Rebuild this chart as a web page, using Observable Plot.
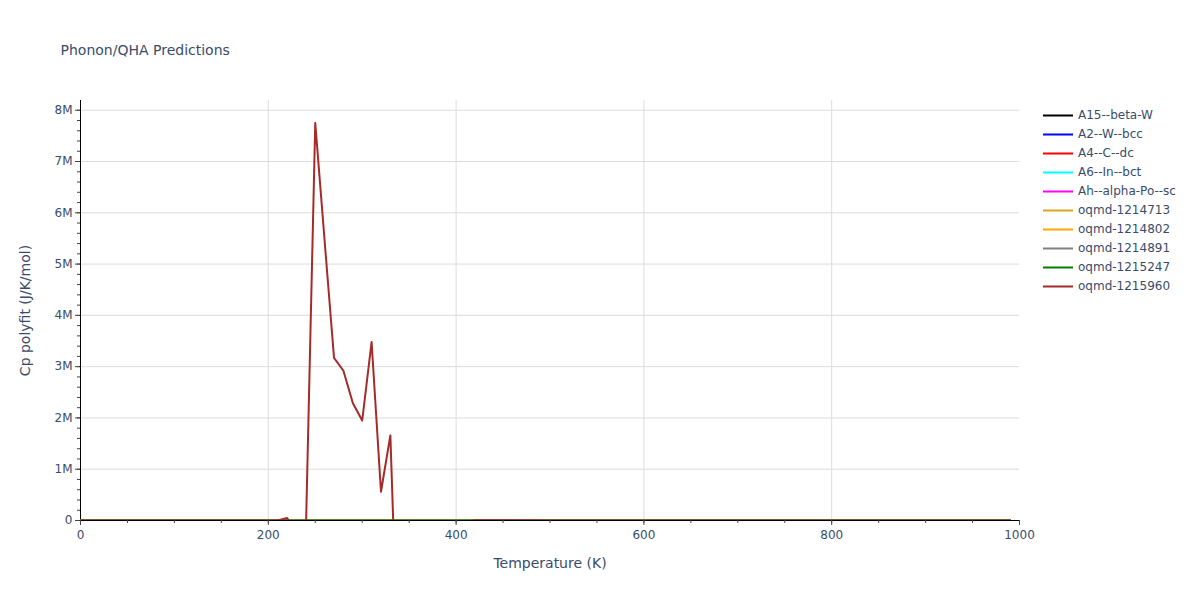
<!DOCTYPE html>
<html><head><meta charset="utf-8">
<script src="https://cdn.jsdelivr.net/npm/d3@7"></script>
<script src="https://cdn.jsdelivr.net/npm/@observablehq/plot@0.6"></script>
<style>
body{margin:0;background:#fff;font-family:"DejaVu Sans",sans-serif;}
#wrap{position:relative;width:1200px;height:600px;}
#legend{position:absolute;left:1040px;top:105.5px;font-size:12px;color:#3a4b69;font-family:"DejaVu Sans",sans-serif;}
.row{height:19px;display:flex;align-items:center;white-space:nowrap;}
.row svg{flex:none;}
</style></head><body>
<div id="wrap"><div id="chart"></div><div id="legend"></div></div>
<script>
// ---- data ----
const seriesNames = ["A15--beta-W","A2--W--bcc","A4--C--dc","A6--In--bct","Ah--alpha-Po--sc",
  "oqmd-1214713","oqmd-1214802","oqmd-1214891","oqmd-1215247","oqmd-1215960"];
const seriesColors = ["black","blue","red","cyan","magenta","goldenrod","orange","grey","green","brown"];

const otherT = [0,100,200,300,400,500,600,700,800,900,990];
const cpA15  = [0,14,20,22,23,24,24,24,25,25,25];
const cpA2   = [0,15,21,23,24,24,25,25,25,25,25];
const cpA4   = [0,10,18,21,23,24,24,24,25,25,25];
const cpA6   = [0,16,21,23,24,24,25,25,25,25,26];
const cpAh   = [0,15,20,22,23,24,24,25,25,25,25];
const cp713  = [0,13,19,22,23,24,24,24,25,25,25];
const cp802  = [0,14,20,22,23,24,24,25,25,25,25];
const cp891  = [0,15,21,23,24,24,25,25,25,25,25];
const cp247  = [0,14,20,22,23,24,24,25,25,25,25];

const brownT  = [0,50,100,150,200,210,220,230,240,250,260,270,280,290,300,310,320,330,340,350,360,370,380,390,400,410,420,500,600,700,800,900,990];
const cp960   = [0,20,25,27,28,30,50000,-230000,-240000,7750000,5450000,3170000,2920000,2290000,1950000,3480000,560000,1660000,-3870000,-4600000,-4200000,-3600000,-2900000,-2100000,-1200000,-45000,5000,30,28,27,27,26,26];

const xTicks = [0,200,400,600,800,1000];
const yTicks = [0,1e6,2e6,3e6,4e6,5e6,6e6,7e6,8e6];
const xMinor = d3.range(0, 1001, 50);
const yMinor = d3.range(0, 8.19e6, 2e5);

// ---- build table ----
const seriesValues = [cpA15,cpA2,cpA4,cpA6,cpAh,cp713,cp802,cp891,cp247];
const rows = [];
seriesValues.forEach((vals, i) => vals.forEach((v, j) => rows.push({series: seriesNames[i], T: otherT[j], Cp: v})));
cp960.forEach((v, j) => rows.push({series: seriesNames[9], T: brownT[j], Cp: v}));

const fmtY = d => d === 0 ? "0" : (d / 1e6) + "M";
const tc = "#3a4b69";

const chart = Plot.plot({
  width: 1200, height: 600,
  marginLeft: 80, marginRight: 181, marginTop: 100, marginBottom: 80,
  style: {fontFamily: "'DejaVu Sans', sans-serif", fontSize: "12px", color: tc, background: "white"},
  x: {domain: [0, 1000], label: null},
  y: {domain: [0, 8.19e6], label: null},
  color: {domain: seriesNames, range: seriesColors},
  marks: [
    Plot.gridX(xTicks.slice(1, -1), {stroke: "#dcdcdc", strokeOpacity: 1}),
    Plot.gridY(yTicks.slice(1), {stroke: "#dcdcdc", strokeOpacity: 1}),
    Plot.ruleY([0], {stroke: "black"}),
    Plot.ruleX([0], {stroke: "black"}),
    Plot.line(rows, {x: "T", y: "Cp", z: "series", stroke: "series", strokeWidth: 2, clip: true}),
    Plot.axisX(xMinor, {tickSize: 3, tickFormat: () => "", stroke: "#444", label: null}),
    Plot.axisY(yMinor, {tickSize: 3, tickFormat: () => "", stroke: "#444", label: null}),
    Plot.axisX(xTicks, {tickSize: 5, tickPadding: 5, tickFormat: d => String(d), stroke: "#444", fill: tc, label: null}),
    Plot.axisY(yTicks, {tickSize: 5, tickPadding: 3, tickFormat: fmtY, stroke: "#444", fill: tc, label: null}),
    Plot.text(["Temperature (K)"], {frameAnchor: "bottom", dy: 47, fontSize: 14, fill: tc}),
    Plot.text(["Cp polyfit (J/K/mol)"], {frameAnchor: "left", textAnchor: "middle", dx: -55, rotate: -90, fontSize: 14, fill: tc}),
    Plot.text(["Phonon/QHA Predictions"], {frameAnchor: "top-left", dx: -20, dy: -55, textAnchor: "start", fontSize: 14, fill: tc})
  ]
});
document.getElementById("chart").appendChild(chart);

// ---- legend ----
const legend = document.getElementById("legend");
seriesNames.forEach((name, i) => {
  const row = document.createElement("div");
  row.className = "row";
  row.innerHTML = `<svg width="38" height="19"><line x1="3" x2="33" y1="9.5" y2="9.5" stroke="${seriesColors[i]}" stroke-width="2"/></svg><span>${name}</span>`;
  legend.appendChild(row);
});
</script>
</body></html>
